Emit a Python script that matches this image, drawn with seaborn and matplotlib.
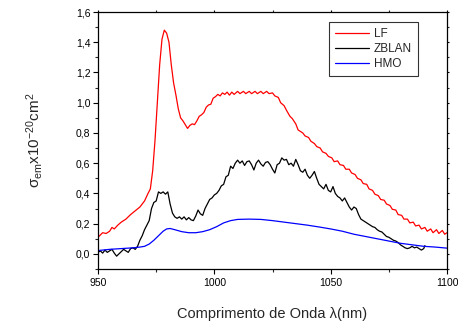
import matplotlib
matplotlib.use("Agg")
import matplotlib.pyplot as plt
import seaborn as sns
import pandas as pd
from matplotlib.ticker import MultipleLocator, FuncFormatter
from matplotlib.lines import Line2D

# ---- data ----
lf_x = [950, 952, 953.5, 955, 956, 957, 958.5, 960, 962, 964, 966, 968, 970, 971.5, 972.5,
        973.5, 974.5, 975.5, 976.5, 977.5, 978.5, 979.5, 980.5, 981.5, 982.5, 983.5, 984.5,
        985.5, 986.5, 987.5, 988.5, 989.5, 990.5, 991.5, 992.5, 993.5, 994.5, 995.5, 996.5,
        997.5, 998.5, 999.5, 1000.5, 1001.5, 1002.5, 1003.5, 1004.5, 1005.5, 1006.5, 1007.5,
        1008.5, 1010, 1011, 1012.5, 1013.5, 1015, 1016, 1017.5, 1018.5, 1020, 1021, 1022.5,
        1023.5, 1025, 1026, 1027.5, 1028.5, 1030, 1031, 1032.5, 1033.5, 1035, 1036, 1038,
        1039, 1040.5, 1041.5, 1043, 1044, 1045.5, 1046.5, 1048, 1049, 1050.5, 1051.5, 1053,
        1054, 1055.5, 1056.5, 1058, 1059, 1060.5, 1061.5, 1063, 1064, 1065.5, 1066.5, 1068,
        1069, 1070.5, 1071.5, 1073, 1074, 1075.5, 1076.5, 1078, 1079, 1080.5, 1081.5, 1083,
        1084, 1085.5, 1086.5, 1088, 1089, 1090.5, 1091.5, 1093, 1094, 1095.5, 1096.5, 1098,
        1099, 1100]
lf_y = [0.11, 0.14, 0.135, 0.15, 0.175, 0.165, 0.19, 0.21, 0.23, 0.26, 0.285, 0.31, 0.35, 0.40, 0.43,
        0.55, 0.75, 1.0, 1.25, 1.42, 1.48, 1.46, 1.40, 1.25, 1.13, 1.05, 0.96,
        0.90, 0.88, 0.855, 0.83, 0.85, 0.86, 0.855, 0.88, 0.91, 0.92, 0.935, 0.97,
        0.985, 0.99, 1.03, 1.04, 1.055, 1.045, 1.065, 1.055, 1.07, 1.05, 1.07,
        1.055, 1.075, 1.06, 1.075, 1.06, 1.075, 1.06, 1.075, 1.06, 1.075, 1.06, 1.075,
        1.06, 1.065, 1.045, 1.035, 1.0, 0.98, 0.95, 0.91, 0.895, 0.86, 0.82, 0.80,
        0.78, 0.77, 0.745, 0.73, 0.71, 0.70, 0.675, 0.665, 0.645, 0.635, 0.61, 0.615,
        0.59, 0.585, 0.56, 0.56, 0.535, 0.525, 0.50, 0.49, 0.465, 0.46, 0.43, 0.42,
        0.395, 0.385, 0.36, 0.355, 0.33, 0.32, 0.295, 0.29, 0.26, 0.255, 0.23, 0.23,
        0.205, 0.21, 0.185, 0.19, 0.165, 0.175, 0.15, 0.165, 0.14, 0.16, 0.135, 0.155,
        0.13, 0.14]

zb_x = [950, 951, 952, 953, 954, 955, 956, 957, 958, 959, 960, 961, 962, 963, 964, 965, 966,
        967, 968, 969, 970, 971, 972, 973, 974, 975, 976, 977, 978, 979, 980, 981, 982, 983,
        984, 985, 986, 987, 988, 989, 990, 991, 992, 993, 994, 995, 996, 997, 998, 999, 1000,
        1001, 1002, 1003, 1004, 1005, 1006, 1007, 1008, 1009, 1010, 1011, 1012, 1013, 1014,
        1015, 1016, 1017, 1018, 1019, 1020, 1021, 1022, 1023, 1024, 1025, 1026, 1027, 1028,
        1029, 1030, 1031, 1032, 1033, 1034, 1035, 1036, 1037, 1038, 1039, 1040, 1041, 1042,
        1043, 1044, 1045, 1046, 1047, 1048, 1049, 1050, 1051, 1052, 1053, 1054, 1055, 1056,
        1057, 1058, 1059, 1060, 1061, 1062, 1063, 1064, 1065, 1066, 1067, 1068, 1069, 1070,
        1071, 1072, 1073, 1074, 1075, 1076, 1077, 1078, 1079, 1080, 1081, 1082, 1083, 1084,
        1085, 1086, 1087, 1088, 1089, 1090, 1090.5]
zb_y = [0.01, 0.02, 0.005, 0.025, 0.01, 0.02, 0.03, 0.005, -0.015, 0.0, 0.015, 0.03, 0.02, 0.01, 0.035, 0.04, 0.03,
        0.05, 0.09, 0.12, 0.16, 0.19, 0.22, 0.30, 0.34, 0.35, 0.41, 0.40, 0.41, 0.395, 0.41, 0.33, 0.27, 0.245,
        0.235, 0.245, 0.23, 0.245, 0.225, 0.24, 0.225, 0.22, 0.25, 0.29, 0.265, 0.255, 0.30, 0.33, 0.36, 0.37, 0.39,
        0.40, 0.42, 0.45, 0.46, 0.51, 0.52, 0.58, 0.565, 0.60, 0.62, 0.60, 0.615, 0.585, 0.61,
        0.615, 0.59, 0.555, 0.60, 0.62, 0.595, 0.58, 0.605, 0.61, 0.59, 0.56, 0.535, 0.59, 0.60,
        0.635, 0.62, 0.625, 0.59, 0.60, 0.58, 0.625, 0.59, 0.55, 0.54, 0.56, 0.52, 0.50, 0.52,
        0.545, 0.50, 0.46, 0.445, 0.43, 0.46, 0.42, 0.41, 0.445, 0.40, 0.38, 0.37, 0.35, 0.37,
        0.34, 0.31, 0.29, 0.31, 0.30, 0.26, 0.23, 0.22, 0.21, 0.20, 0.19, 0.18, 0.175, 0.16,
        0.15, 0.145, 0.13, 0.115, 0.11, 0.10, 0.09, 0.085, 0.075, 0.06, 0.05, 0.04, 0.035, 0.04,
        0.05, 0.04, 0.045, 0.035, 0.025, 0.035, 0.055]

hmo_x = [950, 955, 960, 965, 968, 970, 972, 974, 976, 978, 979.5, 981, 983, 986, 989, 992, 995,
         998, 1001, 1004, 1007, 1010, 1015, 1020, 1025, 1030, 1035, 1040, 1045, 1050, 1055,
         1060, 1065, 1070, 1075, 1080, 1085, 1090, 1095, 1100]
hmo_y = [0.022, 0.03, 0.035, 0.04, 0.045, 0.05, 0.065, 0.09, 0.12, 0.15, 0.165, 0.168, 0.16, 0.147,
         0.14, 0.14, 0.147, 0.16, 0.18, 0.205, 0.22, 0.228, 0.23, 0.228, 0.22, 0.21, 0.20, 0.19,
         0.178, 0.165, 0.15, 0.13, 0.115, 0.10, 0.085, 0.07, 0.06, 0.05, 0.045, 0.038]

series_names = ["LF", "ZBLAN", "HMO"]
series_colors = ["#ff0000", "#000000", "#0000ff"]
x_ticks = [950, 1000, 1050, 1100]
x_label = "Comprimento de Onda λ(nm)"
y_label = r"$\sigma_{em}$x10$^{-20}$cm$^{2}$"

df = pd.concat([
    pd.DataFrame({"x": lf_x, "y": lf_y, "s": "LF"}),
    pd.DataFrame({"x": zb_x, "y": zb_y, "s": "ZBLAN"}),
    pd.DataFrame({"x": hmo_x, "y": hmo_y, "s": "HMO"}),
], ignore_index=True)

sns.set_style("ticks")
plt.rcParams["font.family"] = ["Liberation Sans", "DejaVu Sans"]
plt.rcParams["mathtext.fontset"] = "custom"
plt.rcParams["mathtext.rm"] = "Liberation Sans"
plt.rcParams["mathtext.it"] = "Liberation Sans"
plt.rcParams["mathtext.bf"] = "Liberation Sans:bold"

fig = plt.figure(figsize=(4.58, 3.29), dpi=100)
ax = fig.add_axes([98 / 458, 60 / 329, 349 / 458, 257 / 329])

sns.lineplot(data=df, x="x", y="y", hue="s", hue_order=series_names,
             palette=dict(zip(series_names, series_colors)), estimator=None,
             linewidth=0.9, ax=ax, legend=False)

ax.set_xlim(950, 1100)
ax.set_ylim(-0.1, 1.6)
ax.set_xticks(x_ticks)
ax.xaxis.set_minor_locator(MultipleLocator(25))
ax.yaxis.set_major_locator(MultipleLocator(0.2))
ax.yaxis.set_minor_locator(MultipleLocator(0.1))
ax.yaxis.set_major_formatter(FuncFormatter(lambda v, p: f"{v:.1f}".replace(".", ",").replace("-0,0", "0,0")))
ax.tick_params(axis="both", which="major", direction="out", length=3.5, width=0.8,
               labelsize=7.5, colors="black", pad=2)
ax.tick_params(axis="both", which="minor", direction="out", length=2, width=0.8)
ax.tick_params(top=True, right=True, which="both", labeltop=False, labelright=False)
ax.tick_params(axis="x", which="major", pad=3)
for sp in ax.spines.values():
    sp.set_linewidth(0.9)
    sp.set_color("black")

# tiny ticks on top/right
for t in ax.xaxis.get_major_ticks() + ax.xaxis.get_minor_ticks():
    t.tick2line.set_markersize(1.5)
for t in ax.yaxis.get_major_ticks() + ax.yaxis.get_minor_ticks():
    t.tick2line.set_markersize(1.5)

ax.set_xlabel(x_label, fontsize=10.5, labelpad=14)
ax.set_ylabel(y_label, fontsize=11, labelpad=22)

handles = [Line2D([], [], color=c, lw=0.9) for c in series_colors]
leg = ax.legend(handles, series_names, loc="upper right", bbox_to_anchor=(0.917, 0.961),
                fontsize=8.5, frameon=True, fancybox=False, handlelength=2.9,
                handletextpad=0.4, borderpad=0.5, labelspacing=0.25, borderaxespad=0)
leg.get_frame().set_edgecolor("black")
leg.get_frame().set_linewidth(0.8)

fig.savefig("out.png", dpi=100)
